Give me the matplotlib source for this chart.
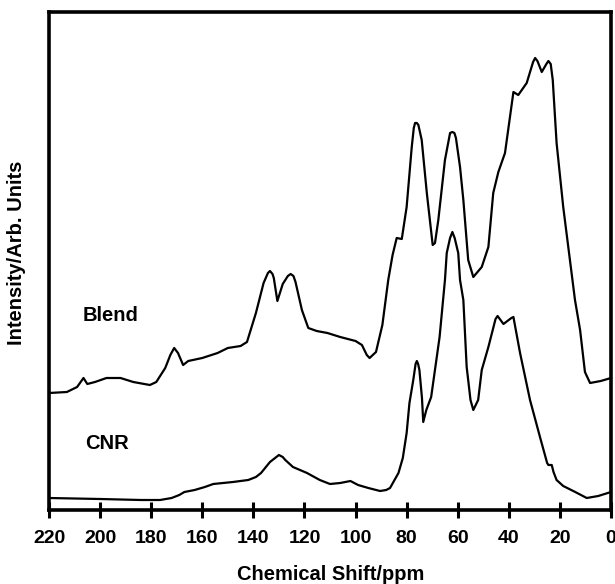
import numpy as np
import matplotlib
matplotlib.use('Agg')
import matplotlib.pyplot as plt

# chemical shift (ppm) and intensity
blend_ppm = [220, 213, 209, 206.5, 205, 202, 197.5, 192, 187, 180.5, 178, 174.5, 172.5, 171,
             169.5, 167.5, 165.5, 160, 154, 150, 145, 142.5, 139, 136, 134.3, 133.5, 132.5, 132, 130.6,
             128.5, 126.5, 125.4, 124.3, 123.5, 121, 118.5, 115.2, 111, 106, 100, 97.5, 95.6, 94.5, 92,
             89.5, 87.2, 85.5, 83.9, 81.9, 80, 78, 77.2, 76.7, 76, 75.4, 74.1, 72.1, 69.8, 68.9, 67.6,
             65, 63, 62.1, 61.3, 60.7, 59.1, 57.8, 55.9, 53.9, 50.6, 48, 46.1, 44.1, 41.5, 38.2,
             36.3, 33, 30.5, 29.7, 28.8, 27.1, 25.3, 24.5, 23.6, 22.8, 21.3, 18.7, 14.1, 12.1, 10.2, 8.2, 4, 0]
blend_int = [117, 118, 123, 132, 126, 128, 132, 132, 128, 125, 128, 142, 155, 162,
             157, 145, 149, 152, 157, 162, 164, 168, 197, 227, 237, 239, 236, 232, 209,
             226, 234, 236, 234, 228, 200, 182, 179, 177, 173, 169, 165, 155, 152, 158,
             185, 230, 255, 272, 271, 303, 363, 382, 387, 387, 385, 370, 317, 265, 267, 290,
             350, 377, 378, 377, 372, 343, 310, 250, 233, 243, 263, 317, 338, 357, 418,
             415, 427, 448, 452, 449, 438, 446, 449, 446, 430, 367, 303, 210, 180, 138, 127, 129, 132]

cnr_ppm = [220, 200, 184, 176.5, 172, 169, 167, 163, 159, 155.7, 148, 142, 139, 137, 133.5,
           131, 130, 128.5, 127.5, 124.5, 119, 114, 110, 106, 102, 99, 95, 90.4, 88, 86.5, 83.2, 81.5,
           80, 78.9, 77.4, 76.5, 76, 75.5, 75, 74, 73.5, 72.3, 70.4, 67.1, 65, 64.3, 63, 62.1, 61.2,
           59.8, 59.1, 57.8, 56.5, 55, 53.9, 52, 50.6, 48, 45.2, 44.4, 42.1, 39, 38.2, 35.6, 31.7,
           27.8, 25, 24.5, 23.2, 22.5, 21.3, 18.7, 14, 9.5, 5, 0]
cnr_int = [12, 11, 10, 10, 12, 15, 18, 20, 23, 26, 28, 30, 33, 37, 48,
           53, 55, 53, 50, 43, 37, 30, 26, 27, 29, 25, 22, 19, 20, 22, 37, 52,
           77, 107, 130, 146, 149, 146, 140, 112, 88, 100, 113, 173, 230, 257, 272, 278, 272,
           257, 230, 210, 143, 110, 100, 110, 140, 163, 191, 194, 186, 192, 193, 157, 110,
           73, 47, 45, 45, 38, 30, 24, 18, 12, 14, 18]

xticks = np.arange(0, 221, 20)

plt.rcParams['font.family'] = 'Liberation Sans'
plt.rcParams['font.weight'] = 'bold'

fig = plt.figure(figsize=(6.15, 5.84), dpi=100)
ax = fig.add_axes([49/615, 1-510/584, 562/615, 498/584])

ax.plot(blend_ppm, blend_int, color='black', lw=1.6, solid_joinstyle='round')
ax.plot(cnr_ppm, cnr_int, color='black', lw=1.6, solid_joinstyle='round')

ax.set_xlim(220, 0)
ax.set_ylim(0, 498)
ax.set_xticks(xticks)
ax.set_yticks([])
ax.tick_params(axis='x', direction='inout', length=11, width=2.2, pad=9, labelsize=14)
for s in ax.spines.values():
    s.set_linewidth(2.6)

ax.text(207, 195, 'Blend', fontsize=14.5, fontweight='bold', va='center', ha='left')
ax.text(206, 67, 'CNR', fontsize=14.5, fontweight='bold', va='center', ha='left')

fig.text(331/615, 1-575/584, 'Chemical Shift/ppm', fontsize=14.5, fontweight='bold',
         ha='center', va='center')
fig.text(17/615, 1-253/584, 'Intensity/Arb. Units', fontsize=14.5, fontweight='bold',
         ha='center', va='center', rotation=90)

fig.savefig('out.png', dpi=100)
